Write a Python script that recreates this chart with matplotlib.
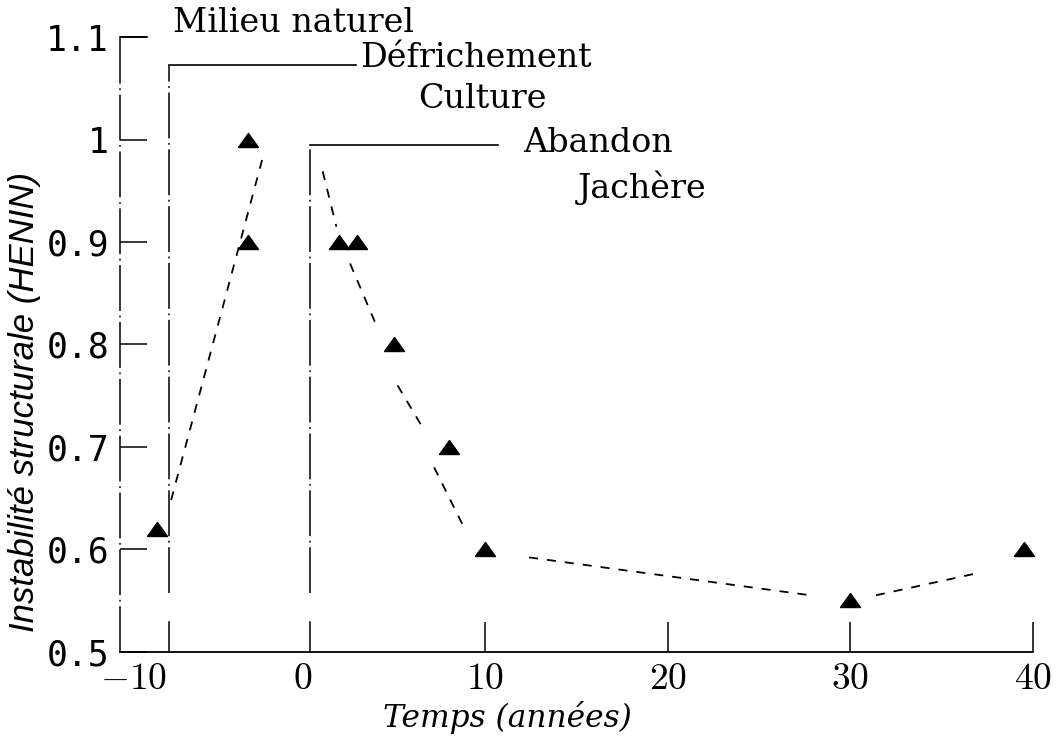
import matplotlib
matplotlib.use("Agg")
import matplotlib.pyplot as plt
import matplotlib.transforms as mtransforms

# ---- data ----
time = [-8, -3, -3, 2, 3, 5, 8, 10, 30, 39.5]
instab = [0.62, 1.0, 0.9, 0.9, 0.9, 0.8, 0.7, 0.6, 0.55, 0.6]

# hand-drawn dashed trend segments (start/end of each piece)
trend_x = [[-7.2, -2.1], [1.1, 1.85], [2.6, 4.1], [5.2, 6.7], [7.2, 8.9],
           [12.4, 27.8], [31.4, 36.8]]
trend_y = [[0.648, 0.988], [0.969, 0.915], [0.879, 0.816], [0.760, 0.715],
           [0.680, 0.619], [0.592, 0.555], [0.555, 0.576]]

# phase markers: vertical line position, height of top bar, end of top bar
phase_x = [-10, -7.3, 0.4]
phase_top = [1.1, 1.073, 0.995]
phase_end = [-8.5, 2.9, 10.7]

phase_names = ["Milieu naturel", "Défrichement", "Culture", "Abandon", "Jachère"]

xticks = [-10, 0, 10, 20, 30, 40]
yticks = [0.5, 0.6, 0.7, 0.8, 0.9, 1.0, 1.1]
ytick_labels = ["0.5", "0.6", "0.7", "0.8", "0.9", "1", "1.1"]

xlabel = "Temps (années)"
ylabel = "Instabilité structurale (HENIN)"

# ---- layout ----
label_pos = [(-7.1, 1.105), (3.14, 1.071), (6.32, 1.031), (12.07, 0.988), (15.08, 0.943)]

plt.rcParams["mathtext.fontset"] = "cm"

W, H = 1060, 742
fig = plt.figure(figsize=(W / 100, H / 100), dpi=100)
ax = fig.add_axes([120 / W, 1 - 651.6 / H, 913 / W, 614.4 / H])
ax.set_xlim(-10, 40)
ax.set_ylim(0.5, 1.1)
for s in ["top", "right", "left"]:
    ax.spines[s].set_visible(False)
ax.spines["bottom"].set_linewidth(1.3)

tri = [(-1, -0.7), (1, -0.7), (0, 0.7), (-1, -0.7)]
ax.plot(time, instab, linestyle="none", marker=tri, ms=14.4, color="black",
        clip_on=False, zorder=3)

for xs, ys in zip(trend_x, trend_y):
    ax.plot(xs, ys, color="black", lw=1.3, linestyle=(0, (5, 5)))

dashdot = (0, (30, 3, 1.2, 3))
for i, (x0, top, x1) in enumerate(zip(phase_x, phase_top, phase_end)):
    if i == 0:
        ax.plot([x0, x0], [0.5, top], color="black", lw=1.1, linestyle=dashdot,
                clip_on=False)
    else:
        ax.plot([x0, x0], [0.557, top], color="black", lw=1.1, linestyle=dashdot,
                clip_on=False)
        ax.plot([x0, x0], [0.5, 0.529], color="black", lw=1.1, clip_on=False)
    ax.plot([x0, x1], [top, top], color="black", lw=1.2, clip_on=False)

for name, (tx, ty) in zip(phase_names, label_pos):
    ax.text(tx, ty, name, fontsize=24, family="DejaVu Serif", ha="left",
            va="baseline", color="black")

ax.set_xticks(xticks)
ax.set_xticklabels([f"${t}$" for t in xticks], fontsize=27)
ax.tick_params(axis="x", direction="in", length=21.6, width=1.1, pad=7)
for t in ax.xaxis.get_major_ticks()[:2]:
    t.tick1line.set_visible(False)
first = ax.get_xticklabels()[0]
first.set_transform(first.get_transform() +
                    mtransforms.ScaledTranslation(14 / 100, 0, fig.dpi_scale_trans))

ax.set_yticks(yticks)
ax.set_yticklabels(ytick_labels, fontfamily="DejaVu Sans Mono", fontsize=25)
ax.tick_params(axis="y", direction="in", length=19.4, width=1.1, pad=8)

fig.text(25 / W, 1 - 402 / H, ylabel, rotation=90, ha="center", va="center",
         fontsize=25, family="Liberation Sans", style="italic")
fig.text(507 / W, 1 - 718 / H, xlabel, ha="center", va="center",
         fontsize=22.5, family="DejaVu Serif", style="italic")

fig.savefig("out.png", dpi=100)
